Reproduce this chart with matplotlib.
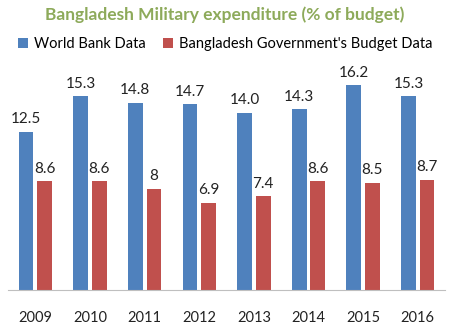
import matplotlib.pyplot as plt
import numpy as np

plt.rcParams['font.family'] = ['Lato', 'DejaVu Sans']

years = ['2009', '2010', '2011', '2012', '2013', '2014', '2015', '2016']
world_bank = [12.5, 15.3, 14.8, 14.7, 14.0, 14.3, 16.2, 15.3]
govt_budget = [8.6, 8.6, 8, 6.9, 7.4, 8.6, 8.5, 8.7]
wb_labels = ['12.5', '15.3', '14.8', '14.7', '14.0', '14.3', '16.2', '15.3']
gb_labels = ['8.6', '8.6', '8', '6.9', '7.4', '8.6', '8.5', '8.7']

blue = '#4F81BD'
red = '#C0504D'

fig = plt.figure(figsize=(4.5, 3.29), dpi=100)
# baseline at y=290 px, 12.65 px per unit
ax = fig.add_axes([0.018, 0.1185, 0.971, 0.692])

x = np.arange(len(years))
w = 0.27
b1 = ax.bar(x - w / 2 - 0.035, world_bank, width=w, color=blue, label='World Bank Data')
b2 = ax.bar(x + w / 2 + 0.035, govt_budget, width=w, color=red,
            label="Bangladesh Government's Budget Data")

for bar, txt in zip(b1, wb_labels):
    ax.annotate(txt, (bar.get_x() + bar.get_width() / 2, bar.get_height()),
                xytext=(0, 4), textcoords='offset points', ha='center', va='bottom',
                fontsize=11, color='#222222')
for bar, txt in zip(b2, gb_labels):
    ax.annotate(txt, (bar.get_x() + bar.get_width() / 2, bar.get_height()),
                xytext=(0, 4), textcoords='offset points', ha='center', va='bottom',
                fontsize=11, color='#222222')

ax.set_xlim(-0.5, len(years) - 0.5)
ax.set_ylim(0, 18)
ax.set_yticks([])
ax.set_xticks(x)
ax.set_xticklabels(years, fontsize=10.5, color='#222222')
ax.tick_params(axis='x', length=0, pad=15)
for s in ['top', 'left', 'right']:
    ax.spines[s].set_visible(False)
ax.spines['bottom'].set_color('#BFBFBF')

fig.text(0.5, 0.955, 'Bangladesh Military expenditure (% of budget)', ha='center', va='center',
         fontsize=12.5, fontweight='bold', color='#8DAA5A')
fig.legend(handles=[b1, b2], loc='center', bbox_to_anchor=(0.5, 0.867), ncol=2, frameon=False,
           fontsize=10.5, handlelength=0.7, handleheight=0.7, handletextpad=0.4, columnspacing=1.2)

plt.savefig('out.png', dpi=100)
